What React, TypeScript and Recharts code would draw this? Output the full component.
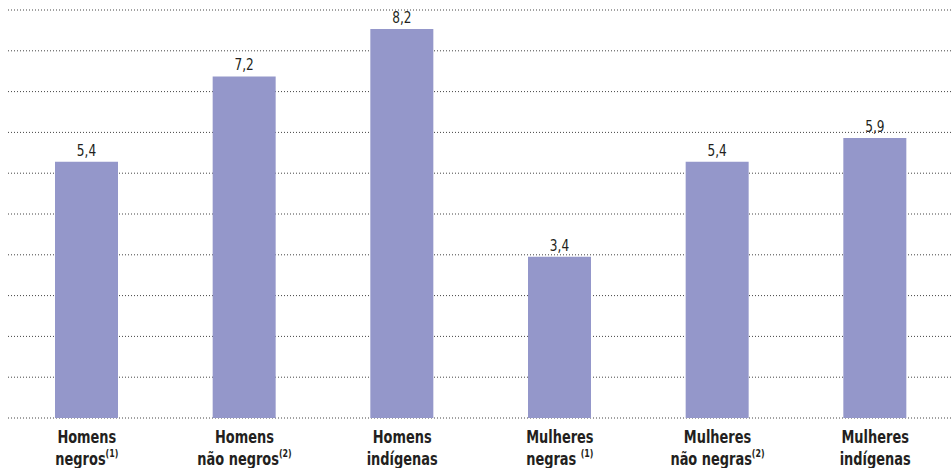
import React from "react";
import { BarChart, Bar, XAxis, YAxis, CartesianGrid, LabelList } from "recharts";

const categoryLine1 = ["Homens", "Homens", "Homens", "Mulheres", "Mulheres", "Mulheres"];
const categoryLine2 = ["negros", "não negros", "indígenas", "negras ", "não negras", "indígenas"];
const categoryNotes = ["(1)", "(2)", "", "(1)", "(2)", ""];
const values = [5.4, 7.2, 8.2, 3.4, 5.4, 5.9];
const gridTicks = [0, 0.86, 1.72, 2.58, 3.44, 4.3, 5.16, 6.02, 6.88, 7.74, 8.6];

const data = values.map((v, i) => ({ idx: i, value: v }));

const FONT = "'DejaVu Sans Condensed', 'Liberation Sans Narrow', sans-serif";

const Tick = (props: any) => {
  const { x, y, payload } = props;
  const i = payload.value as number;
  return (
    <g transform={`translate(${x},${y}) scale(0.8,1)`}>
      <text x={0} y={0} textAnchor="middle" fontFamily={FONT} fontWeight="bold" fontSize={18} fill="#231f20">
        <tspan x={0} dy={25}>{categoryLine1[i]}</tspan>
        <tspan x={0} dy={22}>
          {categoryLine2[i]}
          {categoryNotes[i] ? (
            <tspan fontSize={11} dy={-8}>{categoryNotes[i]}</tspan>
          ) : null}
        </tspan>
      </text>
    </g>
  );
};

const ValueLabel = (props: any) => {
  const { x, y, width, value } = props;
  const cx = x + width / 2;
  return (
    <g transform={`translate(${cx},${y - 6}) scale(0.9,1)`}>
      <text x={0} y={0} textAnchor="middle" fontFamily={FONT} fontSize={15} fill="#231f20">
        {String(value).replace(".", ",")}
      </text>
    </g>
  );
};

export default function App() {
  return (
    <div style={{ position: "absolute", left: 0, top: 0, width: 951, height: 468, overflow: "hidden", background: "#fff" }}>
      <BarChart
        width={954}
        height={468}
        data={data}
        margin={{ top: 10, right: 0, bottom: 0, left: 8 }}
      >
        <CartesianGrid vertical={false} stroke="#444" strokeDasharray="1 2" />
        <XAxis
          dataKey="idx"
          tick={<Tick />}
          tickLine={false}
          axisLine={false}
          tickSize={0}
          tickMargin={0}
          interval={0}
          height={50}
        />
        <YAxis hide domain={[0, 8.6]} ticks={gridTicks} />
        <Bar dataKey="value" fill="#9497ca" barSize={63} isAnimationActive={false}>
          <LabelList dataKey="value" content={<ValueLabel />} />
        </Bar>
      </BarChart>
    </div>
  );
}
